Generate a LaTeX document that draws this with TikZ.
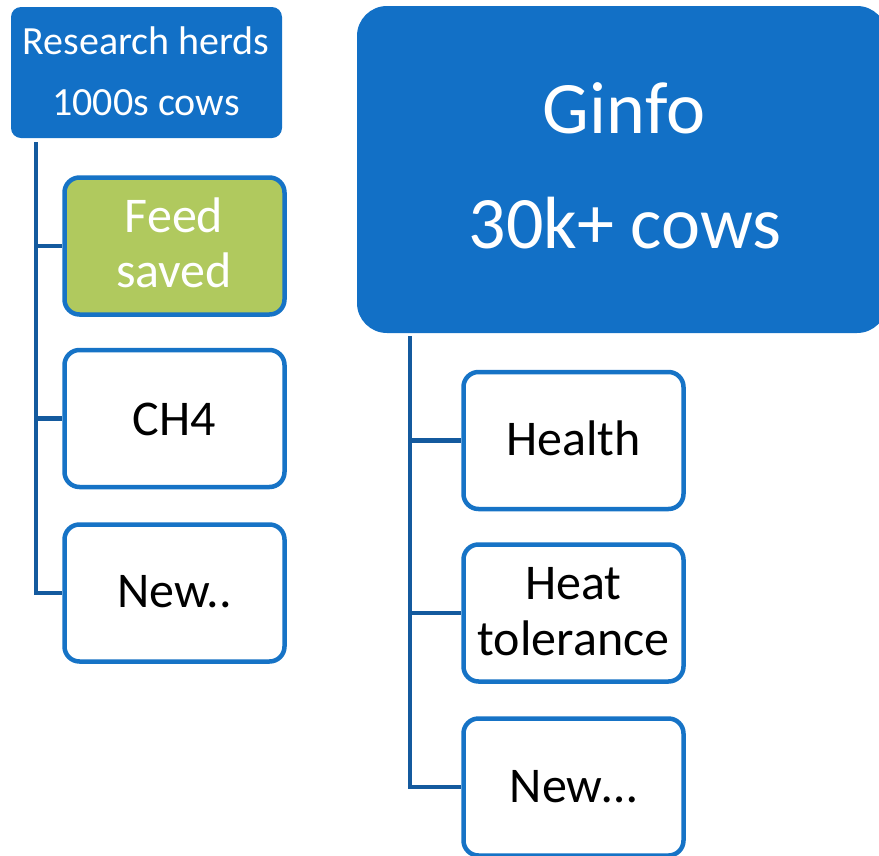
\documentclass[tikz,border=0pt]{standalone}
\usepackage{fontspec}
\setmainfont{Carlito}
\definecolor{boxblue}{RGB}{18,112,198}
\definecolor{edgeblue}{RGB}{22,115,198}
\definecolor{lineblue}{RGB}{20,90,158}
\definecolor{feedgreen}{RGB}{176,201,94}
\begin{document}
\begin{tikzpicture}[x=1pt,y=-1pt,
  headbox/.style={fill=boxblue,draw=none,inner sep=0pt},
  itembox/.style={draw=edgeblue,line width=4.5pt,fill=white,rounded corners=15pt,
    minimum width=220pt,minimum height=137pt,inner sep=0pt},
  conn/.style={draw=lineblue,line width=4.2pt},
  txt/.style={anchor=base,inner sep=0pt,font=\fontsize{50}{56}\selectfont},
  wtxt/.style={txt,text=white}]
\useasboundingbox (0,0) rectangle (879,855);
\begin{scope}
\clip (0,0) rectangle (879,855);
% head boxes
\node[headbox,rounded corners=10pt,minimum width=271pt,minimum height=131pt] (rh) at (146.5,72.5) {};
\node[headbox,rounded corners=30pt,minimum width=530pt,minimum height=327pt] (gi) at (622,169.5) {};
% left items
\node[itembox,fill=feedgreen] (fs) at (174.5,246) {};
\node[itembox] (ch) at (174.5,418.5) {};
\node[itembox] (nl) at (174.5,593) {};
% right items
\node[itembox] (he) at (573.5,440.5) {};
\node[itembox] (ht) at (573.5,613) {};
\node[itembox] (nr) at (573.5,787) {};
% connectors
\coordinate (lt) at (36,142);
\coordinate (rt) at (410,336);
\draw[conn] (lt) |- (nl.west);
\draw[conn] (lt |- fs.west) -- (fs.west);
\draw[conn] (lt |- ch.west) -- (ch.west);
\draw[conn] (rt) |- (nr.west);
\draw[conn] (rt |- he.west) -- (he.west);
\draw[conn] (rt |- ht.west) -- (ht.west);
% texts
\node[wtxt,font=\fontsize{40}{46}\selectfont] (rh1) at (146,54) {Research herds};
\node[wtxt,font=\fontsize{40}{46}\selectfont] (rh2) at (146,115) {1000s cows};
\node[wtxt,font=\fontsize{74}{80}\selectfont] (gi1) at (624,133) {Ginfo};
\node[wtxt,font=\fontsize{74}{80}\selectfont] (gi2) at (625,248) {30k+ cows};
\node[wtxt] (fs1) at (174,232) {Feed};
\node[wtxt] (fs2) at (174,287) {saved};
\node[txt] (ch1) at (174.5,435) {CH4};
\node[txt] (nl1) at (174.5,607) {New..};
\node[txt] (he1) at (573.5,455) {Health};
\node[txt] (ht1) at (573.5,599) {Heat};
\node[txt] (ht2) at (573.5,655) {tolerance};
\node[txt] (nr1) at (573.5,802) {New…};
\end{scope}
\end{tikzpicture}
\end{document}
